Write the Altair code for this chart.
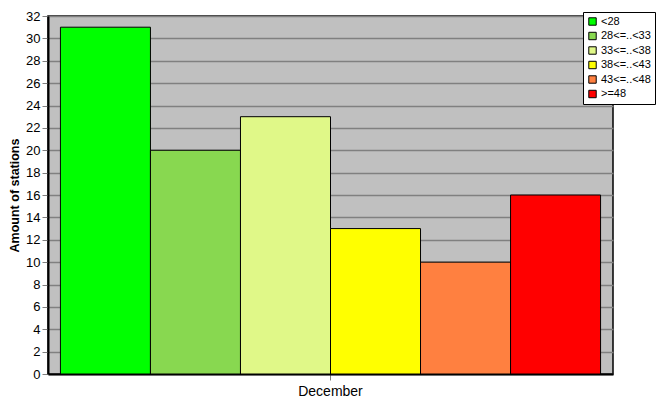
import altair as alt
import pandas as pd

months = ["December"] * 6
series = ["<28", "28<=..<33", "33<=..<38", "38<=..<43", "43<=..<48", ">=48"]
values = [31, 20, 23, 13, 10, 16]
colors = ["#00FF00", "#88D850", "#E0F888", "#FFFF00", "#FF8040", "#FF0000"]

df = pd.DataFrame({"month": months, "series": series, "value": values})

font = "Liberation Sans"

chart = alt.Chart(df).mark_bar(stroke="black", strokeWidth=1, opacity=1).encode(
    x=alt.X("month:N", title=None,
            scale=alt.Scale(paddingInner=0, paddingOuter=0.023),
            axis=alt.Axis(labelAngle=0, labelFontSize=14, labelColor="black",
                          labelFont=font, tickColor="#808080", tickSize=6,
                          domainColor="black", domainWidth=2, labelPadding=4)),
    xOffset=alt.XOffset("series:N", sort=series,
                        scale=alt.Scale(paddingInner=0, paddingOuter=0)),
    y=alt.Y("value:Q", title="Amount of stations",
            scale=alt.Scale(domain=[0, 32], nice=False),
            axis=alt.Axis(values=list(range(0, 33, 2)), labelFontSize=13,
                          labelColor="black", labelFont=font,
                          titleFont=font, titleFontSize=12.5, titleFontWeight="bold",
                          titleColor="black", titlePadding=4,
                          tickColor="#808080", tickSize=6,
                          domainColor="black", domainWidth=2,
                          grid=True, gridColor="#808080", gridWidth=1.5)),
    color=alt.Color("series:N", sort=series,
                    scale=alt.Scale(domain=series, range=colors),
                    legend=alt.Legend(title=None, orient="none", legendX=535, legendY=-4,
                                      symbolType="square", symbolSize=55,
                                      symbolStrokeColor="black", symbolStrokeWidth=1,
                                      labelFont=font, labelFontSize=11, labelColor="black",
                                      labelOffset=3,
                                      strokeColor="black", fillColor="white",
                                      padding=4, rowPadding=1.5, symbolOffset=0,
                                      labelLimit=200)),
).properties(
    width=565, height=358,
    background="white",
    autosize=alt.AutoSizeParams(type="none"),
    padding={"left": 40, "top": 8, "right": 46, "bottom": 33},
).configure_view(
    fill="#C0C0C0", stroke="black", strokeWidth=1.5
)

chart.save("out.html", embed_options={"renderer": "svg", "actions": False})
